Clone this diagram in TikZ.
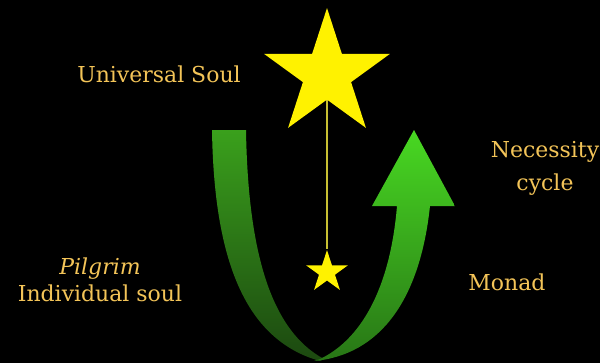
\documentclass[tikz,border=0pt]{standalone}
\usepackage{fontspec}
\setmainfont{DejaVu Serif}
\usetikzlibrary{shapes.geometric, positioning}
\definecolor{gold}{RGB}{243,196,88}
\definecolor{lgreen}{RGB}{58,160,28}
\definecolor{dgreen}{RGB}{28,72,16}
\definecolor{agreen}{RGB}{72,216,34}
\definecolor{mgreen}{RGB}{40,118,22}

\begin{document}
\begin{tikzpicture}[x=0.02cm, y=-0.02cm,
    lbl/.style={text=gold, font=\fontsize{12.5}{15.6}\selectfont, align=center, anchor=base},
    starnode/.style={star, star points=5, star point ratio=2.618, fill=yellow, inner sep=0pt}
]
    \fill[black] (0,0) rectangle (600,363);
    \useasboundingbox (0,0) rectangle (600,363);

    % left band of the cycle
    \shade[top color=lgreen, bottom color=dgreen]
        (212,130) -- (246,130) .. controls (248,250) and (270,330) .. (324,359)
        -- (320,361) .. controls (245,340) and (214,260) .. (212,130) -- cycle;
    % right band with arrowhead
    \shade[top color=agreen, bottom color=mgreen]
        (320,359) .. controls (360,340) and (390,290) .. (397,206)
        -- (372,206) -- (414,130) -- (455,206) -- (430,206)
        .. controls (420,300) and (380,355) .. (314,361) -- cycle;

    \node[starnode, minimum size=2.65cm] (soul)  at (327,74.3) {};
    \node[starnode, minimum size=0.88cm] (spark) at (327,272.1) {};
    \draw[yellow!75!black, line width=0.6pt] (soul.south) -- (spark.north);

    \node[lbl] (univ)    at (159,82.7)  {Universal Soul};
    \node[lbl] (cycle)   at (545,190)   {Necessity\\[3pt]cycle};
    \node[lbl] (pilgrim) at (100,301.7) {\textit{Pilgrim}\\Individual soul};
    \node[lbl] (monad)   at (507,290)   {Monad};
\end{tikzpicture}
\end{document}
